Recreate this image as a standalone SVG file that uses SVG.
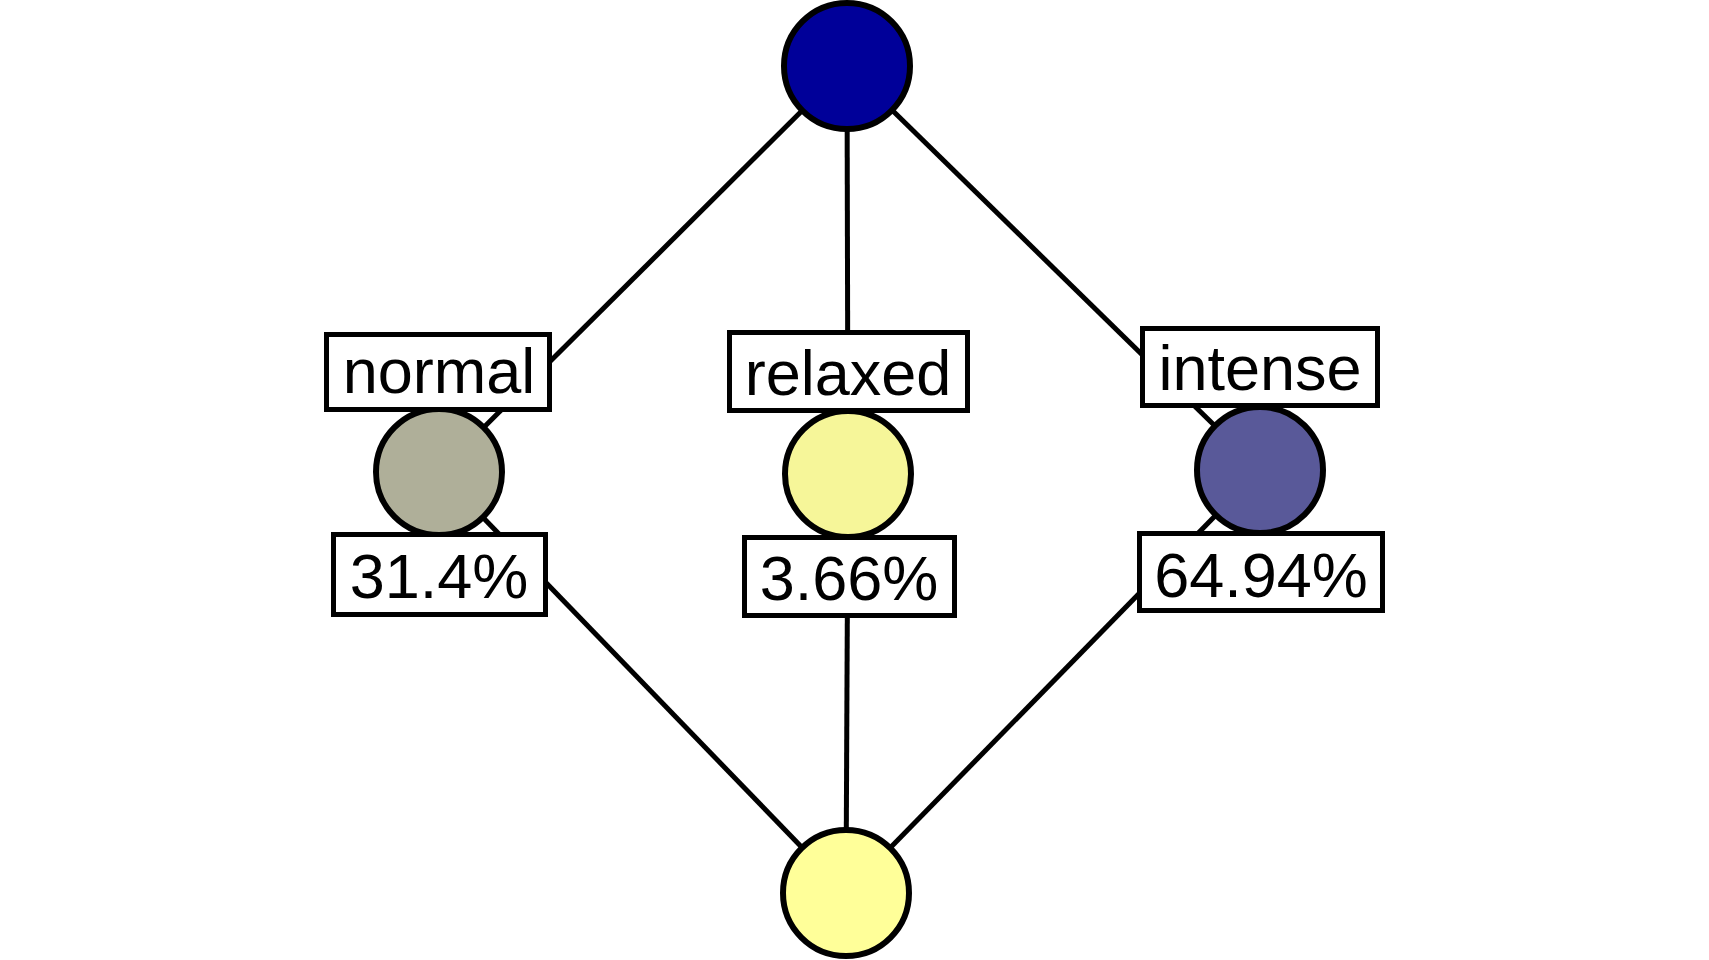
<svg xmlns="http://www.w3.org/2000/svg" width="1709" height="960" viewBox="0 0 1709 960">
<style>
.edge{stroke:#000;stroke-width:5;fill:none}
.node{stroke:#000;stroke-width:6}
.box{fill:#fff;stroke:#000;stroke-width:5}
.lbl{font-family:"Liberation Sans",Arial,sans-serif;font-size:63px;fill:#000;text-anchor:middle}
</style>
<rect width="1709" height="960" fill="#fff"/>
<g id="connectors">
<line class="edge" x1="847" y1="66" x2="439" y2="472"/>
<line class="edge" x1="847" y1="66" x2="848" y2="474"/>
<line class="edge" x1="847" y1="66" x2="1260" y2="470"/>
<line class="edge" x1="439" y1="472" x2="846" y2="893"/>
<line class="edge" x1="848" y1="474" x2="846" y2="893"/>
<line class="edge" x1="1260" y1="470" x2="846" y2="893"/>
</g>
<g id="top">
<circle class="node" cx="847" cy="66" r="63" fill="#000099"/>
</g>
<g id="bottom">
<circle class="node" cx="846" cy="893" r="63" fill="#FFFF99"/>
</g>
<g id="normal">
<circle class="node" cx="439" cy="472" r="63" fill="#AFAF99"/>
<rect class="box" x="326.5" y="334.5" width="223" height="75"/>
<text class="lbl" x="439" y="393">normal</text>
<rect class="box" x="333.5" y="534.5" width="212" height="80"/>
<text class="lbl" x="439" y="598">31.4%</text>
</g>
<g id="relaxed">
<circle class="node" cx="848" cy="474" r="63" fill="#F6F699"/>
<rect class="box" x="729.5" y="332.5" width="238" height="78"/>
<text class="lbl" x="848" y="395">relaxed</text>
<rect class="box" x="744.5" y="537.5" width="210" height="78"/>
<text class="lbl" x="849" y="600">3.66%</text>
</g>
<g id="intense">
<circle class="node" cx="1260" cy="470" r="63" fill="#595999"/>
<rect class="box" x="1142.5" y="328.5" width="235" height="77"/>
<text class="lbl" x="1260" y="390">intense</text>
<rect class="box" x="1139.5" y="533.5" width="243" height="77"/>
<text class="lbl" x="1261" y="597">64.94%</text>
</g>
</svg>
